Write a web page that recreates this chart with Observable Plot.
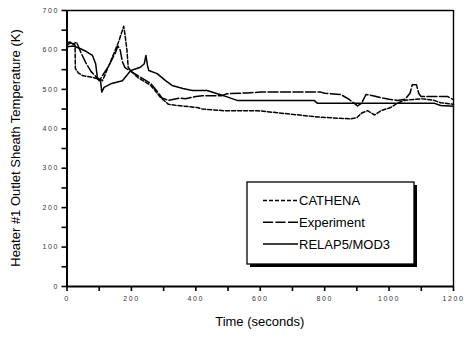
<!DOCTYPE html>
<html>
<head>
<meta charset="utf-8">
<script src="https://cdn.jsdelivr.net/npm/d3@7"></script>
<script src="https://cdn.jsdelivr.net/npm/@observablehq/plot@0.6"></script>
<style>
  html, body { margin: 0; padding: 0; background: #fff; }
  svg { display: block; }
  g[aria-label$="tick label"] text { letter-spacing: 1.6px; }
</style>
</head>
<body>
<script>
// RELAP5/MOD3 (solid)
const relapT = [0, 20, 42, 60, 79, 89, 94, 104, 108, 115, 139, 172, 198, 228, 240, 245, 250, 254, 280, 306, 326, 360, 389, 435, 486, 528, 767, 777, 1139, 1160, 1200];
const relapK = [608, 610, 603, 596, 586, 565, 531, 522, 493, 505, 515, 522, 548, 556, 565, 586, 560, 548, 540, 522, 510, 502, 497, 497, 484, 472, 472, 465, 465, 459, 457];
// Experiment (long dash)
const expT = [0, 10, 20, 30, 32, 45, 60, 75, 90, 100, 130, 151, 158, 165, 172, 180, 200, 230, 260, 280, 295, 316, 350, 368, 400, 420, 480, 497, 560, 601, 788, 800, 850, 875, 902, 915, 928, 950, 980, 1000, 1026, 1050, 1065, 1072, 1085, 1092, 1099, 1181, 1200];
const expK = [612, 618, 615, 620, 615, 590, 565, 545, 532, 522, 560, 594, 610, 600, 570, 555, 545, 530, 515, 495, 478, 472, 478, 476, 482, 484, 484, 489, 491, 493, 493, 490, 487, 475, 458, 465, 487, 484, 478, 475, 472, 475, 490, 512, 512, 490, 482, 482, 474];
// CATHENA (short dash)
const cathT = [0, 10, 25, 26, 35, 48, 80, 105, 110, 115, 140, 160, 176, 180, 186, 190, 200, 220, 240, 260, 290, 315, 342, 404, 420, 486, 591, 684, 777, 881, 900, 915, 933, 945, 955, 975, 1005, 1026, 1046, 1100, 1140, 1160, 1200];
const cathK = [618, 620, 612, 553, 542, 535, 530, 525, 522, 531, 580, 620, 660, 640, 600, 556, 545, 530, 520, 510, 480, 462, 459, 454, 450, 446, 446, 438, 430, 425, 428, 440, 446, 440, 435, 446, 454, 465, 472, 476, 472, 466, 462];

const seriesNames = ["CATHENA", "Experiment", "RELAP5/MOD3"];
const dashes = {"CATHENA": "4,2", "Experiment": "10,2.5", "RELAP5/MOD3": "none"};
const xTicks = d3.range(0, 1201, 100);
const yTicks = d3.range(0, 701, 50);

const toRows = (name, T, K) => T.map((t, i) => ({series: name, t, k: K[i]}));
const rows = {
  "CATHENA": toRows("CATHENA", cathT, cathK),
  "Experiment": toRows("Experiment", expT, expK),
  "RELAP5/MOD3": toRows("RELAP5/MOD3", relapT, relapK)
};

const W = 464, H = 338;
const plot = Plot.plot({
  width: W, height: H,
  marginLeft: 66.5, marginRight: 11, marginTop: 10, marginBottom: 52,
  style: {fontFamily: "Liberation Sans, Arial, sans-serif", background: "#fff", color: "#000"},
  x: {domain: [0, 1200]},
  y: {domain: [0, 700]},
  marks: [
    Plot.ruleY([700], {stroke: "#000", strokeWidth: 1.4}),
    Plot.ruleX([1200], {stroke: "#000", strokeWidth: 1.4}),
    ...seriesNames.map(n => Plot.line(rows[n], {x: "t", y: "k", stroke: "#000", strokeWidth: 1.5, strokeDasharray: dashes[n], strokeLinejoin: "round"})),
    Plot.ruleY([0], {stroke: "#000", strokeWidth: 2}),
    Plot.ruleX([0], {stroke: "#000", strokeWidth: 2}),
    Plot.axisX({ticks: xTicks, tickFormat: d => d % 200 === 0 ? String(d) : "", tickSize: 5, tickPadding: 5, fontSize: 7, strokeWidth: 1.6, fill: "#333", label: null}),
    Plot.axisY({ticks: yTicks, tickFormat: d => d % 100 === 0 ? String(d) : "", tickSize: 5, tickPadding: 3, fontSize: 7, strokeWidth: 1.6, fill: "#333", label: null})
  ]
});
document.body.appendChild(plot);

const svg = d3.select(plot);
const xs = plot.scale("x"), ys = plot.scale("y");
const FF = "Liberation Sans, Arial, sans-serif";
// axis titles
svg.append("text")
  .attr("x", xs.apply(600)).attr("y", 326)
  .attr("text-anchor", "middle")
  .attr("font-size", 13).attr("font-family", FF)
  .text("Time (seconds)");
svg.append("text")
  .attr("transform", `translate(19.5,${(ys.apply(0) + ys.apply(700)) / 2}) rotate(-90)`)
  .attr("text-anchor", "middle")
  .attr("font-size", 13).attr("font-family", FF)
  .text("Heater #1 Outlet Sheath Temperature (K)");

// legend
const lg = svg.append("g");
const bx = 247, by = 182, bw = 167, bh = 82;
lg.append("rect").attr("x", bx + 3).attr("y", by + 3).attr("width", bw).attr("height", bh).attr("fill", "#000");
lg.append("rect").attr("x", bx).attr("y", by).attr("width", bw).attr("height", bh).attr("fill", "#fff").attr("stroke", "#000").attr("stroke-width", 1.3);
seriesNames.forEach((n, i) => {
  const yy = 200.5 + i * 21.7;
  lg.append("line").attr("x1", 263).attr("x2", 298).attr("y1", yy).attr("y2", yy)
    .attr("stroke", "#000").attr("stroke-width", 1.5).attr("stroke-dasharray", dashes[n]);
  lg.append("text").attr("x", 299).attr("y", yy + 4.7)
    .attr("text-anchor", "start")
    .attr("font-size", 13).attr("font-family", FF)
    .text(n);
});
</script>
</body>
</html>
